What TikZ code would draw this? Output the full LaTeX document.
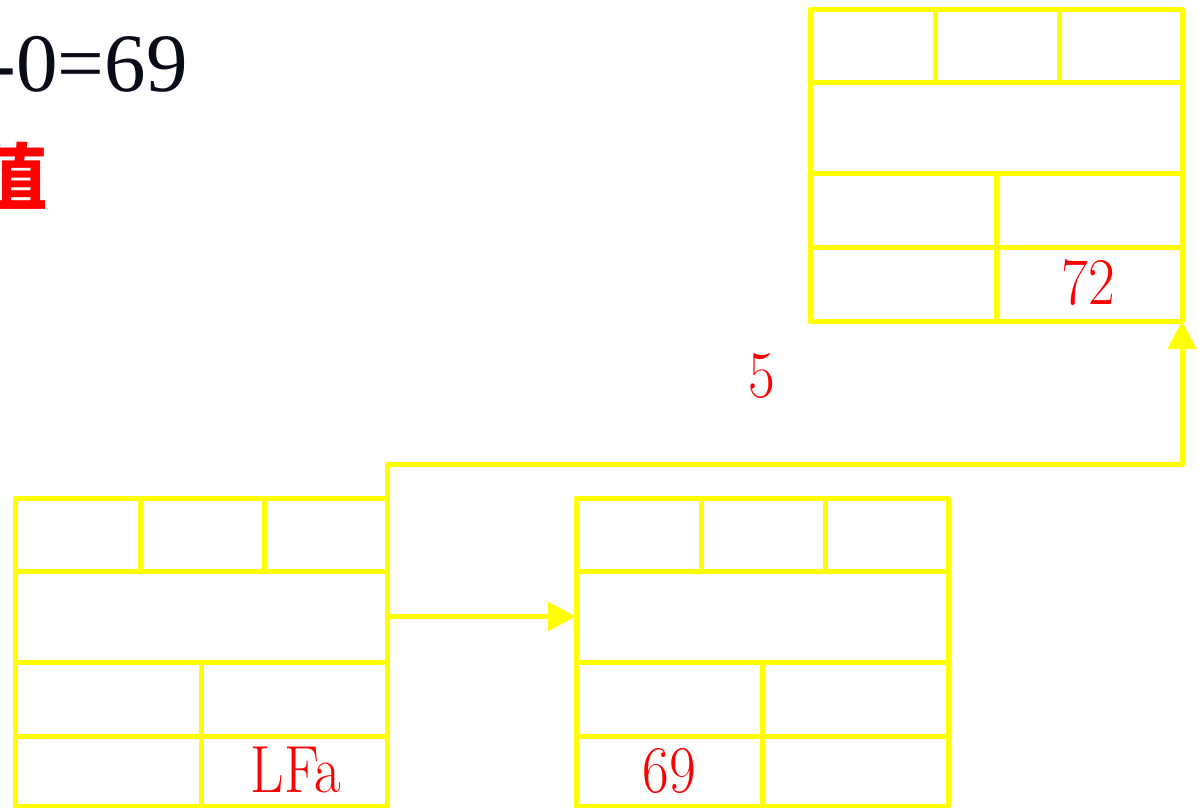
\documentclass[tikz,border=0pt]{standalone}
\usepackage{fontspec}
\newfontfamily\cjk{Noto Sans CJK SC}
\newfontfamily\tnr{Liberation Serif}
\usetikzlibrary{arrows.meta,calc}
\definecolor{ylw}{RGB}{255,255,0}
\definecolor{rd}{RGB}{255,0,0}
\definecolor{inkc}{RGB}{8,12,24}
\tikzset{
  boxline/.style={draw=ylw, line width=5pt, line join=round},
  recnode/.style={boxline, rectangle, inner sep=0pt, outer sep=0pt, minimum width=372pt, anchor=north west},
  conn/.style={draw=ylw, line width=5pt, line join=round, -{Triangle[length=28pt,width=28pt]}},
  lbl/.style={text=rd, inner sep=0pt, anchor=base, font=\fontsize{58}{60}\selectfont},
}
\newcommand\recbox[4]{%
  \node[recnode, minimum height=#4pt] (#1) at (#2,#3) {};
  \draw[boxline]
    ($(#1.north west)+(0,73)$) -- ++(372,0)
    ($(#1.north west)+(0,164)$) -- ++(372,0)
    ($(#1.north west)+(0,238)$) -- ++(372,0)
    ($(#1.north west)+(125,0)$) -- ++(0,73)
    ($(#1.north west)+(249,0)$) -- ++(0,73)
    ($(#1.north west)+(186,164)$) -- ($(#1.south west)+(186,0)$);
}
\begin{document}
\begin{tikzpicture}[x=1pt,y=-1pt]
\useasboundingbox (0,0) rectangle (1199,808);
\clip (0,0) rectangle (1199,808);
\node[anchor=base east, inner sep=0pt, text=inkc, font=\tnr\fontsize{83}{90}\selectfont] (eq) at (188,91) {-0=69};
\node[anchor=base east, inner sep=0pt, text=rd, font=\cjk\bfseries\fontsize{72}{80}\selectfont] (zhi) at (48,203) {值};
\recbox{TR}{810}{9.5}{311.5}
\recbox{BL}{15.5}{498}{308}
\recbox{MID}{576}{498}{308}
\coordinate (a1) at ($(BL.north east)+(0,118.5)$);
\draw[conn] (a1) -- (a1 -| MID.west);
\draw[conn] (BL.north east) -- ++(0,-34) -| (TR.south east);
\node[lbl] (l72) at (1088,304) {\scalebox{1}[1.15]{72}};
\node[lbl] (lfa) at (296,792) {\scalebox{1}[1.15]{LFa}};
\node[lbl] (l69) at (669,792) {\scalebox{1}[1.15]{69}};
\node[lbl] (l5) at (762,397) {\scalebox{1}[1.15]{5}};
\end{tikzpicture}
\end{document}
